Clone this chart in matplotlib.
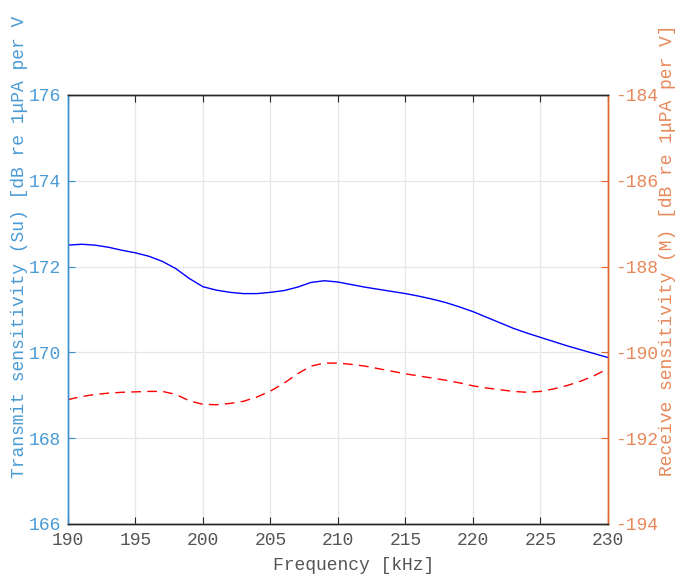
import numpy as np
import matplotlib
matplotlib.use('Agg')
import matplotlib.pyplot as plt

# frequency axis (kHz)
freq = np.arange(190, 231, 1)

# transmit sensitivity Su [dB re 1uPA per V]
su = [172.50, 172.52, 172.50, 172.45, 172.38, 172.32, 172.24, 172.12, 171.95, 171.72,
      171.53, 171.45, 171.40, 171.37, 171.37, 171.40, 171.44, 171.52, 171.63, 171.67,
      171.64, 171.58, 171.52, 171.47, 171.42, 171.37, 171.31, 171.24, 171.16, 171.06,
      170.95, 170.82, 170.69, 170.56, 170.45, 170.35, 170.25, 170.15, 170.06, 169.97,
      169.88]

# receive sensitivity M [dB re 1uPA per V]
m = [-191.10, -191.03, -190.98, -190.95, -190.93, -190.92, -190.91, -190.91, -190.98, -191.13,
     -191.21, -191.22, -191.19, -191.14, -191.04, -190.90, -190.72, -190.50, -190.32, -190.25,
     -190.25, -190.28, -190.32, -190.38, -190.44, -190.50, -190.55, -190.60, -190.65, -190.71,
     -190.78, -190.83, -190.87, -190.91, -190.93, -190.91, -190.85, -190.77, -190.67, -190.54,
     -190.38]

xticks = [190, 195, 200, 205, 210, 215, 220, 225, 230]
yticks_left = [166, 168, 170, 172, 174, 176]
yticks_right = [-194, -192, -190, -188, -186, -184]

plt.rcParams['font.family'] = ['Liberation Mono', 'DejaVu Sans Mono']
plt.rcParams['axes.unicode_minus'] = False

left_col = '#3A8FCF'
left_txt = '#4A9BD6'
right_col = '#E0682E'
right_txt = '#E8885A'
fs = 13

fig = plt.figure(figsize=(6.77, 5.79), dpi=100)
ax = fig.add_axes([0.1004, 0.095, 0.7976, 0.741])
ax2 = ax.twinx()

ax.plot(freq, su, color='b', lw=1.0)
ax2.plot(freq, m, color='r', lw=1.0, ls=(0, (7, 4.5)))

ax.set_xlim(190, 230)
ax.set_ylim(166, 176)
ax2.set_ylim(-194, -184)
ax.set_xticks(xticks)
ax.set_yticks(yticks_left)
ax2.set_yticks(yticks_right)

ax.grid(True, color='#E3E6EA', lw=0.9)
ax.set_axisbelow(True)

for a in (ax, ax2):
    a.spines['top'].set_color('#262626')
    a.spines['bottom'].set_color('#262626')
    a.spines['left'].set_color(left_col)
    a.spines['right'].set_color(right_col)
    for s in a.spines.values():
        s.set_linewidth(1.0)

ax.tick_params(axis='x', direction='in', length=5, colors='#262626', labelcolor='#555555',
               labelsize=fs, top=True, pad=6)
ax.tick_params(axis='y', direction='in', length=5, colors=left_col, labelcolor=left_txt,
               labelsize=fs, pad=5)
ax2.tick_params(axis='y', direction='in', length=5, colors=right_col, labelcolor=right_txt,
                labelsize=fs, pad=5)

ax.set_xlabel('Frequency [kHz]', color='#555555', fontsize=fs)
ax.xaxis.set_label_coords(0.529, -0.076)
ax.set_ylabel('Transmit sensitivity (Su) [dB re 1\u03bcPA per V', color=left_txt, fontsize=fs)
ax.yaxis.set_label_coords(-0.074, 0.645)
ax2.set_ylabel('Receive sensitivity (M) [dB re 1\u03bcPA per V]', color=right_txt, fontsize=fs)
ax2.yaxis.set_label_coords(1.094, 0.638)

fig.savefig('out.png', dpi=100)
